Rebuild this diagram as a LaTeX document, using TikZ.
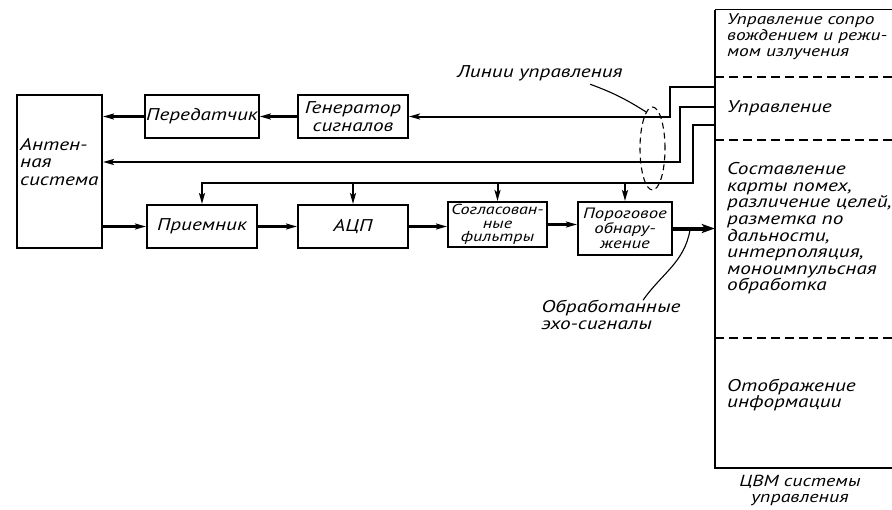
\documentclass[tikz,border=0pt]{standalone}
\usepackage{fontspec}
\setmainfont{PT Sans}[FakeStretch=1.25]
\usetikzlibrary{arrows.meta, positioning, shapes.geometric}

\tikzset{
  >={Stealth[length=11pt, width=6pt, inset=2.5pt]},
  rutext/.style={font=\itshape\fontsize{17}{16.6}\selectfont},
  txt/.style={rutext, align=left, inner sep=0pt},
  blk/.style={draw, line width=2pt, minimum width=110pt, minimum height=43pt,
              inner sep=1pt, align=center, rutext},
  sig/.style={line width=2.2pt, ->},
  ctl/.style={line width=2pt},
  sepline/.style={line width=1.4pt, dash pattern=on 9pt off 5pt},
  leadline/.style={line width=1.1pt},
}

\begin{document}
\begin{tikzpicture}[x=1pt, y=-1pt]
        \useasboundingbox (0,0) rectangle (892,509);
        % blocks of the radar
        \node[blk, minimum width=85pt, minimum height=153pt] (ant) at (59.5,171.5) {};
        \node[txt, anchor=west, font=\itshape\fontsize{17}{17.5}\selectfont] (antlbl) at (20,162)
             {Антен-\\ная\\система};
        \node[blk] (tx) at (202,116.5) {Передатчик};
        \node[blk, font=\itshape\fontsize{17}{18.5}\selectfont] (gen) at (353,116.5)
             {Генератор\\сигналов};
        \node[blk] (rx) at (202,226.5) {Приемник};
        \node[blk] (adc) at (353,226.5) {АЦП};
        \node[blk, minimum width=99pt, minimum height=45pt,
              font=\itshape\fontsize{14.5}{13.5}\selectfont] (mf) at (497.5,224.5)
             {Согласован-\\ные\\фильтры};
        \node[blk, minimum width=94pt, minimum height=53pt,
              font=\itshape\fontsize{15}{15}\selectfont] (thr) at (625,228.5)
             {Пороговое\\обнару-\\жение};

        % computer column
        \node[minimum width=177pt, minimum height=458pt, inner sep=0pt] (cvm) at (803.5,239) {};
        \draw[line width=0.8pt] (cvm.north east) -- (cvm.north west);
        \draw[line width=2pt] (cvm.north west) -- (cvm.south west) -- (cvm.south east);
        \foreach \y in {77,140,338}
          \draw[sepline] (cvm.west |- 0,\y) -- (cvm.east |- 0,\y);
        \node[txt, anchor=west, font=\itshape\fontsize{15.5}{16}\selectfont] (cvm1) at (727,37)
             {Управление сопро\\вождением и режи-\\мом излучения};
        \node[txt, anchor=west] (cvm2) at (727,108) {Управление};
        \node[txt, anchor=west] (cvm3) at (727,228.5)
             {Составление\\карты помех,\\различение целей,\\разметка по\\дальности,\\интерполяция,\\моноимпульсная\\обработка};
        \node[txt, anchor=west, font=\itshape\fontsize{17}{16.5}\selectfont] (cvm4) at (727,395)
             {Отображение\\информации};
        \node[txt, align=center, font=\itshape\fontsize{16}{16}\selectfont] (cvmname) at (800,490)
             {ЦВМ системы\\управления};

        % signal path
        \draw[sig] (gen.west) -- (tx.east);
        \draw[sig] (tx.west) -- (tx.west -| ant.east);
        \draw[sig] (ant.east |- rx.west) -- (rx.west);
        \draw[sig] (rx.east) -- (adc.west);
        \draw[sig] (adc.east) -- (adc.east -| mf.west);
        \draw[sig] (mf.east) -- (mf.east -| thr.west);
        \draw[line width=4pt, -{Stealth[length=13pt, width=9pt, inset=3pt]}]
             (thr.east) -- (thr.east -| cvm.west);

        % control lines
        \draw[ctl, ->] (cvm.west |- 0,87) -- (670,87) |- (gen.east);
        \draw[ctl, ->] (cvm.west |- 0,107) -- (680,107) |- (ant.east |- 0,162);
        \draw[ctl, ->] (cvm.west |- 0,125) -- (693,125) |- (rx.north |- 0,183) -- (rx.north);
        \foreach \b in {adc, mf, thr}
          \draw[ctl, ->] (\b.north |- 0,183) -- (\b.north);

        \node[draw, ellipse, line width=1.1pt, dash pattern=on 6pt off 4pt, minimum width=25pt,
              minimum height=83pt, inner sep=0pt] (grp) at (652.5,148.5) {};
        \node[rutext] (ctllbl) at (540,73) {Линии управления};
        \draw[leadline] ([xshift=-36pt]ctllbl.south east) to[bend left=6] (grp.100);

        \coordinate (echotap) at (690,230);
        \node[txt] (echolbl) at (611,315) {Обработанные\\эхо-сигналы};
        \draw[leadline] ([xshift=32pt]echolbl.north) to[out=55, in=-100] (echotap);
      \end{tikzpicture}
\end{document}
